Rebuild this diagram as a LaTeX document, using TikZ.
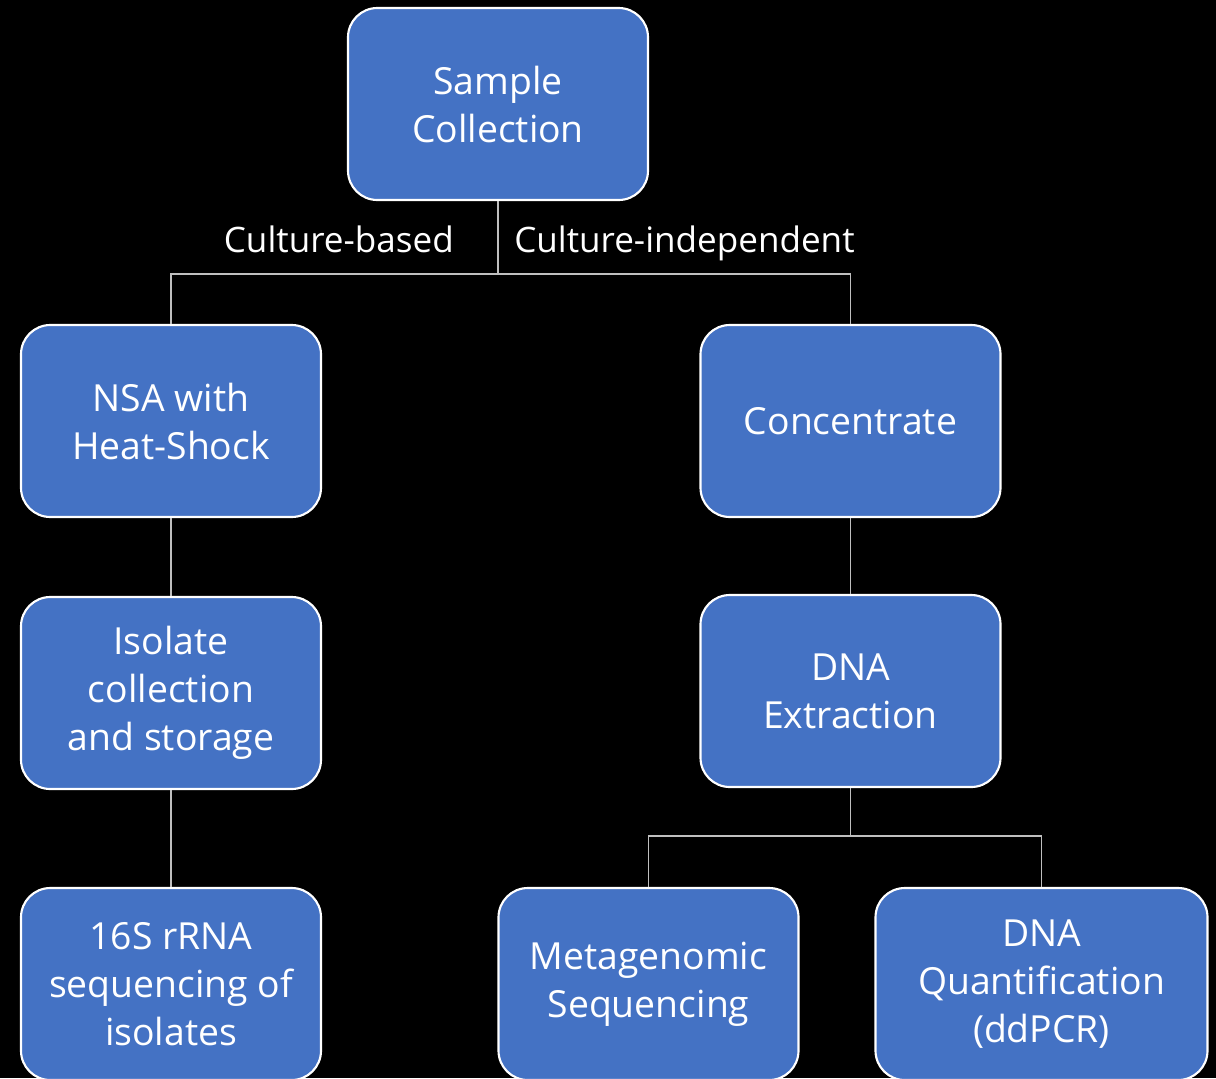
\documentclass[tikz,border=0pt]{standalone}
\usepackage{fontspec}
\setmainfont{Open Sans}
\definecolor{boxblue}{HTML}{4472C4}
\definecolor{linegray}{HTML}{BFBFBF}
\begin{document}
\begin{tikzpicture}[x=0.75pt,y=-0.75pt,
  flowbox/.style={draw=white,line width=1.6pt,fill=boxblue,rounded corners=22pt,
    minimum width=225pt,minimum height=144pt,text=white,align=center,
    inner sep=0pt,font=\fontsize{28}{36}\selectfont},
  link/.style={draw=linegray,line width=1pt},
  branchlabel/.style={text=white,font=\fontsize{26.3}{32}\selectfont,inner sep=0pt}]
\clip (0,0) rectangle (1216,1078);
\fill[black] (0,0) rectangle (1216,1078);
\node[flowbox] (sc) at (498,104) {Sample\\Collection};
\node[flowbox] (nsa) at (171,421) {NSA with\\Heat-Shock};
\node[flowbox] (conc) at (850.5,421) {Concentrate};
\node[flowbox] (iso) at (171,693) {Isolate\\collection\\and storage};
\node[flowbox] (dna) at (850.5,691) {DNA\\Extraction};
\node[flowbox] (rrna) at (171,984) {16S rRNA\\sequencing of\\isolates};
\node[flowbox] (meta) at (648.5,984) {Metagenomic\\Sequencing};
\node[flowbox,minimum width=249pt] (quant) at (1041.5,984) {DNA\\Quantification\\(ddPCR)};
\coordinate (j1) at (498,274);
\coordinate (j2) at (850.5,836);
\draw[link] (sc.south) -- (j1);
\draw[link] (nsa.north) |- (j1) -| (conc.north);
\draw[link] (nsa.south) -- (iso.north);
\draw[link] (iso.south) -- (rrna.north);
\draw[link] (conc.south) -- (dna.north);
\draw[link] (dna.south) -- (j2);
\draw[link] (meta.north) |- (j2) -| (quant.north);
\node[branchlabel,anchor=base east] (cb) at (454,252) {Culture-based};
\node[branchlabel,anchor=base west] (ci) at (514,252) {Culture-independent};
\end{tikzpicture}
\end{document}
